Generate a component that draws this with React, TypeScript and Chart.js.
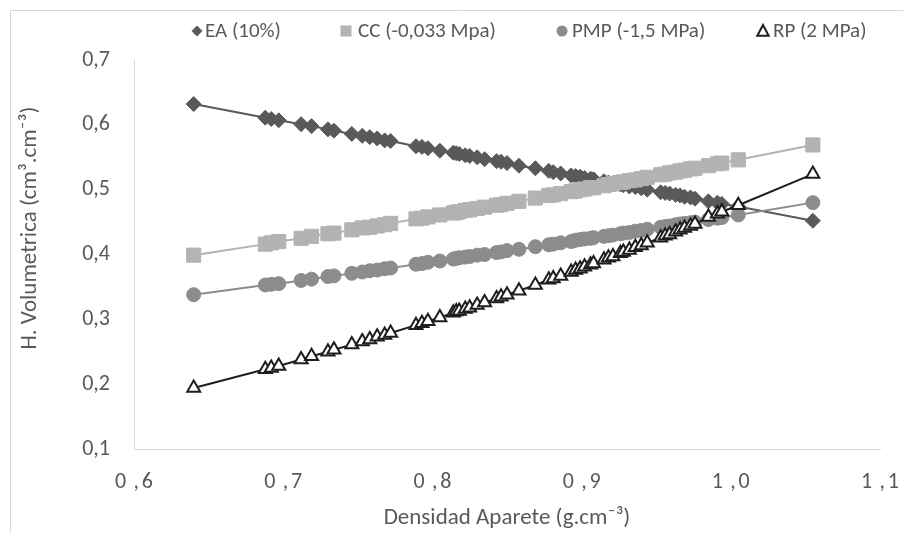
import React, { useEffect, useRef } from 'react';
import { Chart, registerables } from 'chart.js';

Chart.register(...registerables);

const density = [0.640, 0.688, 0.692, 0.697, 0.712, 0.719, 0.730, 0.734, 0.746, 0.753, 0.758, 0.763, 0.768, 0.772, 0.789, 0.793, 0.797, 0.805, 0.814, 0.816, 0.818, 0.822, 0.825, 0.830, 0.835, 0.843, 0.846, 0.850, 0.858, 0.869, 0.878, 0.881, 0.886, 0.893, 0.896, 0.899, 0.902, 0.906, 0.908, 0.915, 0.918, 0.921, 0.926, 0.928, 0.932, 0.936, 0.940, 0.944, 0.953, 0.956, 0.959, 0.963, 0.966, 0.969, 0.973, 0.976, 0.985, 0.991, 0.994, 1.005, 1.055];

const eaValues = [0.632, 0.611, 0.609, 0.607, 0.601, 0.598, 0.593, 0.591, 0.586, 0.583, 0.581, 0.579, 0.576, 0.575, 0.567, 0.566, 0.564, 0.560, 0.557, 0.556, 0.555, 0.553, 0.552, 0.550, 0.547, 0.544, 0.543, 0.541, 0.537, 0.533, 0.529, 0.527, 0.525, 0.522, 0.521, 0.520, 0.518, 0.517, 0.516, 0.513, 0.511, 0.510, 0.508, 0.507, 0.505, 0.504, 0.502, 0.500, 0.496, 0.495, 0.494, 0.492, 0.491, 0.489, 0.488, 0.486, 0.482, 0.480, 0.478, 0.474, 0.452];

const ccValues = [0.399, 0.416, 0.418, 0.420, 0.425, 0.428, 0.432, 0.433, 0.438, 0.441, 0.442, 0.444, 0.446, 0.448, 0.455, 0.456, 0.458, 0.461, 0.464, 0.465, 0.466, 0.468, 0.469, 0.471, 0.473, 0.476, 0.477, 0.479, 0.482, 0.487, 0.491, 0.492, 0.494, 0.497, 0.498, 0.500, 0.501, 0.503, 0.503, 0.506, 0.508, 0.509, 0.511, 0.512, 0.514, 0.515, 0.517, 0.519, 0.523, 0.524, 0.526, 0.527, 0.529, 0.530, 0.532, 0.533, 0.537, 0.540, 0.541, 0.546, 0.569];

const pmpValues = [0.338, 0.353, 0.354, 0.355, 0.360, 0.362, 0.366, 0.367, 0.371, 0.373, 0.375, 0.376, 0.378, 0.379, 0.385, 0.386, 0.388, 0.390, 0.393, 0.394, 0.395, 0.396, 0.397, 0.399, 0.400, 0.403, 0.404, 0.406, 0.408, 0.412, 0.415, 0.416, 0.418, 0.420, 0.422, 0.423, 0.424, 0.425, 0.426, 0.428, 0.429, 0.430, 0.432, 0.433, 0.434, 0.436, 0.437, 0.439, 0.442, 0.443, 0.444, 0.446, 0.447, 0.448, 0.449, 0.450, 0.454, 0.456, 0.457, 0.461, 0.480];

const rpValues = [0.194, 0.223, 0.225, 0.228, 0.238, 0.243, 0.250, 0.253, 0.261, 0.266, 0.269, 0.273, 0.276, 0.279, 0.291, 0.294, 0.297, 0.303, 0.310, 0.312, 0.313, 0.316, 0.318, 0.322, 0.326, 0.332, 0.335, 0.338, 0.344, 0.353, 0.361, 0.363, 0.367, 0.373, 0.376, 0.378, 0.381, 0.384, 0.386, 0.392, 0.395, 0.397, 0.402, 0.404, 0.407, 0.411, 0.414, 0.418, 0.426, 0.429, 0.431, 0.435, 0.438, 0.441, 0.444, 0.447, 0.458, 0.463, 0.466, 0.476, 0.524];

const seriesLabels = ['EA (10%)', 'CC (-0,033 Mpa)', 'PMP (-1,5 MPa)', 'RP (2 MPa)'];
const xTicks = [0.6, 0.7, 0.8, 0.9, 1.0, 1.1];
const yTicks = [0.1, 0.2, 0.3, 0.4, 0.5, 0.6, 0.7];
const xTitle = 'Densidad Aparete (g.cm\u207B\u00B3)';
const yTitle = 'H. Volumetrica (cm\u00B3.cm\u207B\u00B3)';

const FONT = 'Carlito, Calibri, "Open Sans", sans-serif';
const TEXT = '#595959';
const AXIS = '#d9d9d9';

// legend and y-title layout (style only)
const LEGEND_Y = 31;
const LEGEND_MARK_X = [197, 346, 562, 763];
const LEGEND_TEXT_X = [205, 358, 572, 773];
const LEGEND_FONT = 21;
const YTITLE_X = 30;
const YTITLE_Y = 228;
const TITLE_FONT = 23;

const toPoints = (ys: number[]) => density.map((x, i) => ({ x, y: ys[i] }));

const drawMarker = (ctx: CanvasRenderingContext2D, style: string, x: number, y: number, r: number, fill: string, stroke: string, lw: number) => {
  ctx.beginPath();
  if (style === 'rectRot') {
    ctx.moveTo(x - r, y);
    ctx.lineTo(x, y - r);
    ctx.lineTo(x + r, y);
    ctx.lineTo(x, y + r);
    ctx.closePath();
  } else if (style === 'rect') {
    ctx.rect(x - r, y - r, 2 * r, 2 * r);
  } else if (style === 'circle') {
    ctx.arc(x, y, r, 0, Math.PI * 2);
  } else {
    ctx.moveTo(x, y - r);
    ctx.lineTo(x + r * 0.95, y + r * 0.8);
    ctx.lineTo(x - r * 0.95, y + r * 0.8);
    ctx.closePath();
  }
  ctx.fillStyle = fill;
  ctx.fill();
  if (lw > 0) {
    ctx.lineWidth = lw;
    ctx.strokeStyle = stroke;
    ctx.stroke();
  }
};

const framePlugin = {
  id: 'frame',
  beforeDraw(chart: any) {
    const { ctx, width, height } = chart;
    ctx.save();
    ctx.strokeStyle = AXIS;
    ctx.lineWidth = 1;
    ctx.beginPath();
    ctx.moveTo(10.5, height);
    ctx.lineTo(10.5, 10.5);
    ctx.lineTo(width, 10.5);
    ctx.stroke();
    ctx.restore();
  },
  afterDraw(chart: any) {
    const { ctx } = chart;
    ctx.save();
    ctx.font = `${LEGEND_FONT}px ${FONT}`;
    ctx.textBaseline = 'middle';
    ctx.textAlign = 'left';
    chart.data.datasets.forEach((ds: any, i: number) => {
      const style = ds.pointStyle;
      const hollow = style === 'triangle';
      const size = style === 'triangle' ? 6 : 5.5;
      drawMarker(
        ctx,
        style,
        LEGEND_MARK_X[i],
        LEGEND_Y,
        size,
        hollow ? '#ffffff' : ds.backgroundColor,
        hollow ? ds.pointBorderColor : ds.backgroundColor,
        hollow ? 2 : 0,
      );
      ctx.fillStyle = TEXT;
      ctx.fillText(ds.label, LEGEND_TEXT_X[i], LEGEND_Y + 1);
    });
    ctx.restore();

    ctx.save();
    ctx.font = `${TITLE_FONT}px ${FONT}`;
    ctx.fillStyle = TEXT;
    ctx.textAlign = 'center';
    ctx.textBaseline = 'middle';
    ctx.translate(YTITLE_X, YTITLE_Y);
    ctx.rotate(-Math.PI / 2);
    ctx.fillText(yTitle, 0, 0);
    ctx.restore();
  },
};

export default function App() {
  const ref = useRef<HTMLCanvasElement>(null);
  useEffect(() => {
    if (!ref.current) return;
    const chart = new Chart(ref.current, {
      type: 'scatter',
      data: {
        datasets: [
          {
            label: seriesLabels[0],
            data: toPoints(eaValues),
            showLine: true,
            borderColor: '#595959',
            backgroundColor: '#595959',
            borderWidth: 2,
            pointStyle: 'rectRot',
            pointRadius: 7.5,
            pointBorderWidth: 1,
            order: 4,
          },
          {
            label: seriesLabels[1],
            data: toPoints(ccValues),
            showLine: true,
            borderColor: '#b3b3b3',
            backgroundColor: '#b3b3b3',
            borderWidth: 2,
            pointStyle: 'rect',
            pointRadius: 10,
            pointBorderWidth: 1,
            order: 3,
          },
          {
            label: seriesLabels[2],
            data: toPoints(pmpValues),
            showLine: true,
            borderColor: '#8c8c8c',
            backgroundColor: '#8c8c8c',
            borderWidth: 2,
            pointStyle: 'circle',
            pointRadius: 7,
            pointBorderWidth: 1,
            order: 2,
          },
          {
            label: seriesLabels[3],
            data: toPoints(rpValues),
            showLine: true,
            borderColor: '#1e1e1e',
            backgroundColor: '#ffffff',
            pointBorderColor: '#1e1e1e',
            pointBackgroundColor: '#ffffff',
            borderWidth: 2,
            pointStyle: 'triangle',
            pointRadius: 7.5,
            pointBorderWidth: 2,
            order: 1,
          },
        ],
      },
      options: {
        animation: false,
        responsive: false,
        layout: { padding: { top: 60, right: 23, bottom: 0, left: 0 } },
        plugins: {
          tooltip: { enabled: false },
          legend: { display: false },
        },
        scales: {
          x: {
            type: 'linear',
            min: 0.6,
            max: 1.1,
            afterBuildTicks: (s: any) => {
              s.ticks = xTicks.map((v) => ({ value: v }));
            },
            afterFit: (s: any) => {
              s.height = 84;
              s.paddingLeft = 0;
              s.paddingRight = 0;
            },
            grid: { display: false, drawTicks: false },
            border: { display: true, color: AXIS, width: 1 },
            ticks: {
              color: TEXT,
              font: { family: FONT, size: 22 },
              padding: 20,
              maxRotation: 0,
              callback: (v: any) => Number(v).toFixed(1).replace('.', '\u2004,\u200A'),
            },
            title: {
              display: true,
              text: xTitle,
              color: TEXT,
              font: { family: FONT, size: TITLE_FONT },
              padding: { top: 0, bottom: 1 },
            },
          },
          y: {
            type: 'linear',
            min: 0.1,
            max: 0.7,
            afterBuildTicks: (s: any) => {
              s.ticks = yTicks.map((v) => ({ value: v }));
            },
            afterFit: (s: any) => {
              s.width = 134;
            },
            grid: { display: false, drawTicks: false },
            border: { display: true, color: AXIS, width: 1 },
            ticks: {
              color: TEXT,
              font: { family: FONT, size: 22 },
              padding: 24,
              callback: (v: any) => Number(v).toFixed(1).replace('.', ','),
            },
            title: { display: false },
          },
        },
      },
      plugins: [framePlugin],
    });
    return () => chart.destroy();
  }, []);
  return (
    <canvas
      ref={ref}
      width={903}
      height={533}
      style={{ position: 'absolute', left: 0, top: 0, width: 903, height: 533 }}
    />
  );
}
